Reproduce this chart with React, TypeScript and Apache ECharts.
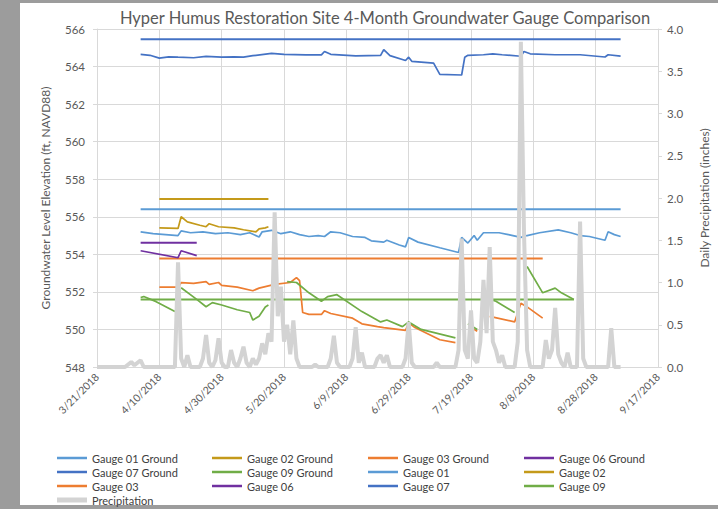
import React, { useEffect, useRef } from "react";
import * as echarts from "echarts";

const TITLE = "Hyper Humus Restoration Site 4-Month Groundwater Gauge Comparison";
const LEFT_AXIS_NAME = "Groundwater Level Elevation (ft, NAVD88)";
const RIGHT_AXIS_NAME = "Daily Precipitation (inches)";
const START = Date.UTC(2018, 2, 21);

// ground elevations: [date, ft]
const g01Ground: [string, number][] = [["4/4", 556.4], ["9/5", 556.4]];
const g02Ground: [string, number][] = [["4/10", 556.95], ["5/15", 556.95]];
const g03Ground: [string, number][] = [["4/10", 553.78], ["8/11", 553.78]];
const g06Ground: [string, number][] = [["4/4", 554.62], ["4/22", 554.62]];
const g07Ground: [string, number][] = [["4/4", 565.45], ["9/5", 565.45]];
const g09Ground: [string, number][] = [["4/4", 551.6], ["8/21", 551.6]];

// groundwater levels: [date, ft]
const g01: [string, number | null][] = [
  ["4/4", 555.2], ["4/8", 555.1], ["4/12", 555.05], ["4/16", 555.0], ["4/17", 555.25], ["4/20", 555.15],
  ["4/24", 555.2], ["4/28", 555.1], ["5/2", 555.15], ["5/6", 555.05], ["5/9", 555.15], ["5/12", 554.92],
  ["5/13", 555.2], ["5/16", 555.28], ["5/19", 555.1], ["5/22", 555.2], ["5/25", 555.05], ["5/28", 554.95],
  ["5/31", 555.0], ["6/2", 554.95], ["6/4", 555.2], ["6/7", 555.15], ["6/11", 554.95], ["6/15", 554.9],
  ["6/17", 554.72], ["6/21", 554.65], ["6/22", 554.75], ["6/26", 554.5], ["6/28", 554.4], ["6/29", 554.9],
  ["7/2", 554.65], ["7/9", 554.35], ["7/15", 554.1], ["7/16", 554.9], ["7/18", 554.6], ["7/20", 555.0],
  ["7/21", 554.75], ["7/23", 555.15], ["7/28", 555.15], ["7/31", 555.05], ["8/4", 554.9], ["8/6", 555.0],
  ["8/10", 555.15], ["8/16", 555.3], ["8/20", 555.15], ["8/23", 555.0], ["8/26", 554.95], ["8/31", 554.75],
  ["9/1", 555.2], ["9/3", 555.05], ["9/5", 554.95],
];
const g02: [string, number | null][] = [
  ["4/10", 555.41], ["4/16", 555.38], ["4/17", 556.0], ["4/19", 555.73], ["4/23", 555.55], ["4/25", 555.47],
  ["4/26", 555.63], ["4/29", 555.47], ["5/4", 555.41], ["5/7", 555.31], ["5/11", 555.2], ["5/12", 555.36],
  ["5/14", 555.41], ["5/15", 555.47],
];
const g03: [string, number | null][] = [
  ["4/10", 552.25], ["4/16", 552.25], ["4/17", 552.49], ["4/21", 552.45], ["4/25", 552.55], ["4/26", 552.4],
  ["4/29", 552.5], ["4/30", 552.35], ["5/5", 552.25], ["5/10", 552.06], ["5/12", 552.2], ["5/14", 552.28],
  ["5/17", 552.4], ["5/22", 552.5], ["5/24", 552.76], ["5/25", 552.6], ["5/26", 550.9], ["5/28", 550.8],
  ["6/1", 550.8], ["6/2", 551.0], ["6/4", 550.85], ["6/11", 550.6], ["6/14", 550.3], ["6/19", 550.15],
  ["6/21", 550.1], ["6/28", 549.95], ["6/29", 550.35], ["7/1", 550.1], ["7/9", 549.45], ["7/14", 549.3],
  ["7/15", null], ["7/19", 550.1], ["7/21", 549.9], ["7/22", null], ["7/25", 550.7], ["8/2", 550.4],
  ["8/4", 551.4], ["8/6", 551.2], ["8/11", 550.6],
];
const g06: [string, number | null][] = [
  ["4/4", 554.19], ["4/16", 553.82], ["4/17", 554.19], ["4/22", 553.93],
];
const g07: [string, number | null][] = [
  ["4/4", 564.65], ["4/7", 564.6], ["4/10", 564.45], ["4/13", 564.52], ["4/16", 564.5], ["4/21", 564.47],
  ["4/25", 564.54], ["4/30", 564.5], ["5/4", 564.52], ["5/7", 564.5], ["5/10", 564.58], ["5/16", 564.7],
  ["5/20", 564.65], ["5/27", 564.62], ["6/1", 564.62], ["6/2", 564.8], ["6/4", 564.65], ["6/12", 564.57],
  ["6/20", 564.6], ["6/21", 564.9], ["6/23", 564.58], ["6/28", 564.32], ["6/29", 564.5], ["6/30", 564.28],
  ["7/7", 564.18], ["7/9", 563.58], ["7/16", 563.55], ["7/17", 564.5], ["7/18", 564.6], ["7/23", 564.63],
  ["7/26", 564.68], ["7/29", 564.63], ["8/4", 564.55], ["8/5", 564.8], ["8/7", 564.68], ["8/15", 564.63],
  ["8/23", 564.63], ["8/31", 564.51], ["9/1", 564.63], ["9/5", 564.56],
];
const g09: [string, number | null][] = [
  ["4/4", 551.7], ["4/5", 551.75], ["4/9", 551.48], ["4/15", 550.95], ["4/16", null], ["4/17", 552.22],
  ["4/22", 551.6], ["4/25", 551.21], ["4/27", 551.43], ["4/30", 551.3], ["5/5", 551.05], ["5/9", 550.9],
  ["5/10", 550.5], ["5/12", 550.7], ["5/14", 551.2], ["5/15", 551.3], ["5/16", null], ["5/21", 552.55],
  ["5/24", 552.5], ["5/28", 551.95], ["6/1", 551.5], ["6/3", 551.75], ["6/6", 551.85], ["6/14", 550.95],
  ["6/20", 550.4], ["6/22", 550.5], ["6/27", 550.15], ["6/29", 550.4], ["7/3", 550.0], ["7/14", 549.55],
  ["7/15", null], ["7/18", 550.3], ["7/21", 550.0], ["7/22", null], ["7/25", 551.6], ["7/27", 551.5],
  ["8/2", 550.9], ["8/3", null], ["8/6", 553.35], ["8/11", 551.95], ["8/15", 552.2], ["8/17", 551.95],
  ["8/21", 551.6],
];

// daily precipitation (inches), one value per day starting 3/21/2018
const precip: number[] = [
  0, 0, 0, 0, 0, 0, 0, 0, 0, 0,
  0.03, 0.06, 0.02, 0.05, 0.08, 0, 0, 0, 0, 0,
  0, 0, 0, 0, 0, 0, 1.24, 0.1, 0, 0.14,
  0, 0, 0, 0, 0.1, 0.38, 0.05, 0, 0.08, 0.34,
  0.05, 0, 0, 0.2, 0.05, 0, 0.1, 0.24, 0.05, 0,
  0.1, 0.03, 0.1, 0.28, 0.15, 0.4, 0.3, 1.83, 0.6, 0.95,
  0.3, 0.5, 0.15, 0.55, 0.1, 0, 0, 0, 0, 0,
  0.03, 0, 0, 0, 0, 0.1, 0.37, 0.05, 0, 0,
  0, 0, 0.1, 0.47, 0.05, 0.17, 0, 0, 0, 0,
  0.1, 0.14, 0.05, 0.14, 0, 0, 0, 0, 0, 0.1,
  0.53, 0.05, 0, 0, 0, 0, 0, 0, 0, 0.05,
  0, 0, 0, 0, 0, 0, 0.2, 1.52, 0.2, 0.1,
  0.67, 0.1, 0.05, 0.3, 1.03, 0.4, 1.42, 0.3, 0.2, 0.05,
  0.14, 0, 0, 0, 0, 0.3, 3.85, 1.6, 0.2, 0,
  0, 0, 0, 0, 0.32, 0.1, 0.2, 0.7, 0.15, 0.05,
  0, 0.17, 0, 0, 0, 1.72, 0.1, 0, 0, 0,
  0, 0, 0, 0, 0, 0.46, 0, 0, 0,
];

const FONT = "Lato, 'Open Sans', sans-serif";
const TXT = "#595959";

function dayOf(md: string): number {
  const [m, d] = md.split("/").map(Number);
  return (Date.UTC(2018, m - 1, d) - START) / 86400000;
}
function toXY(arr: [string, number | null][]) {
  return arr.map(([d, v]) => [dayOf(d), v === null ? "-" : v]);
}
function dayLabel(v: number): string {
  const dt = new Date(START + v * 86400000);
  return `${dt.getUTCMonth() + 1}/${dt.getUTCDate()}/${dt.getUTCFullYear()}`;
}

export default function App() {
  const ref = useRef<HTMLDivElement>(null);
  useEffect(() => {
    if (!ref.current) return;
    const chart = echarts.init(ref.current, undefined, { renderer: "svg" });
    const line = (name: string, data: any[], color: string, width = 2, z = 2) => ({
      name,
      type: "line",
      data,
      symbol: "none",
      connectNulls: false,
      lineStyle: { color, width },
      itemStyle: { color },
      z,
    });
    const legendBase = {
      orient: "vertical",
      top: 451,
      padding: 0,
      icon: "rect",
      itemWidth: 30,
      itemHeight: 2.5,
      itemGap: 0,
      textStyle: { fontFamily: FONT, fontSize: 11, lineHeight: 14, color: "#404040" },
    };
    chart.setOption({
      animation: false,
      title: {
        text: TITLE,
        left: 380,
        textAlign: "center",
        top: 4,
        textStyle: { fontFamily: FONT, fontSize: 16.5, fontWeight: "normal", color: TXT },
      },
      grid: { left: 97, right: 55, top: 29, bottom: 142 },
      legend: [
        { ...legendBase, left: 57, data: ["Gauge 01 Ground", "Gauge 07 Ground", "Gauge 03"] },
        { ...legendBase, left: 57, top: 493, itemHeight: 5, data: ["Precipitation"] },
        { ...legendBase, left: 212, data: ["Gauge 02 Ground", "Gauge 09 Ground", "Gauge 06"] },
        { ...legendBase, left: 368, data: ["Gauge 03 Ground", "Gauge 01", "Gauge 07"] },
        { ...legendBase, left: 524, data: ["Gauge 06 Ground", "Gauge 02", "Gauge 09"] },
      ],
      graphic: [
        {
          type: "text",
          x: 45,
          y: 198,
          rotation: Math.PI / 2,
          style: {
            text: LEFT_AXIS_NAME,
            fill: TXT,
            font: `12px ${FONT}`,
            align: "center",
            verticalAlign: "middle",
          },
        },
      ],
      xAxis: {
        type: "value",
        min: 0,
        max: 180,
        interval: 20,
        axisLine: { show: true, lineStyle: { color: "#d9d9d9" } },
        axisTick: { show: false },
        splitLine: { show: true, lineStyle: { color: "#d9d9d9" } },
        axisLabel: {
          rotate: 45,
          margin: 8,
          fontFamily: FONT,
          fontSize: 10.5,
          color: TXT,
          formatter: (v: number) => dayLabel(v),
        },
      },
      yAxis: [
        {
          type: "value",
          min: 548,
          max: 566,
          interval: 2,
          axisLine: { show: true, lineStyle: { color: "#d9d9d9" } },
          axisTick: { show: true, length: 4, lineStyle: { color: "#d9d9d9" } },
          splitLine: { show: true, lineStyle: { color: "#d9d9d9" } },
          axisLabel: { margin: 12, fontFamily: FONT, fontSize: 11.5, color: TXT },
        },
        {
          type: "value",
          min: 0,
          max: 4,
          interval: 0.5,
          position: "right",
          name: RIGHT_AXIS_NAME,
          nameLocation: "middle",
          nameGap: 40,
          nameTextStyle: { fontFamily: FONT, fontSize: 12, color: TXT },
          axisLine: { show: true, lineStyle: { color: "#d9d9d9" } },
          axisTick: { show: true, length: 4, lineStyle: { color: "#d9d9d9" } },
          splitLine: { show: false },
          axisLabel: { margin: 9, fontFamily: FONT, fontSize: 11.5, color: TXT, formatter: (v: number) => v.toFixed(1) },
        },
      ],
      series: [
        line("Gauge 01 Ground", toXY(g01Ground), "#5B9BD5"),
        line("Gauge 02 Ground", toXY(g02Ground), "#C49A1A"),
        line("Gauge 03 Ground", toXY(g03Ground), "#ED7D31"),
        line("Gauge 06 Ground", toXY(g06Ground), "#7030A0"),
        line("Gauge 07 Ground", toXY(g07Ground), "#4472C4"),
        line("Gauge 09 Ground", toXY(g09Ground), "#70AD47"),
        line("Gauge 01", toXY(g01), "#5B9BD5", 1.7),
        line("Gauge 02", toXY(g02), "#C49A1A", 1.7),
        line("Gauge 03", toXY(g03), "#ED7D31", 1.7),
        line("Gauge 06", toXY(g06), "#7030A0", 1.7),
        line("Gauge 07", toXY(g07), "#4472C4", 1.7),
        line("Gauge 09", toXY(g09), "#70AD47", 1.7),
        {
          ...line("Precipitation", precip.map((v, i) => [i, v]), "#D3D3D3", 4, 3),
          yAxisIndex: 1,
        },
      ],
    });
    return () => chart.dispose();
  }, []);
  return (
    <div style={{ position: "fixed", left: 0, top: 0, width: 718, height: 509, background: "#9c9c9c" }}>
      <div style={{ position: "absolute", left: 20, top: 3, width: 698, height: 502, background: "#ffffff" }} />
      <div ref={ref} style={{ position: "absolute", left: 0, top: 0, width: 718, height: 509 }} />
    </div>
  );
}
